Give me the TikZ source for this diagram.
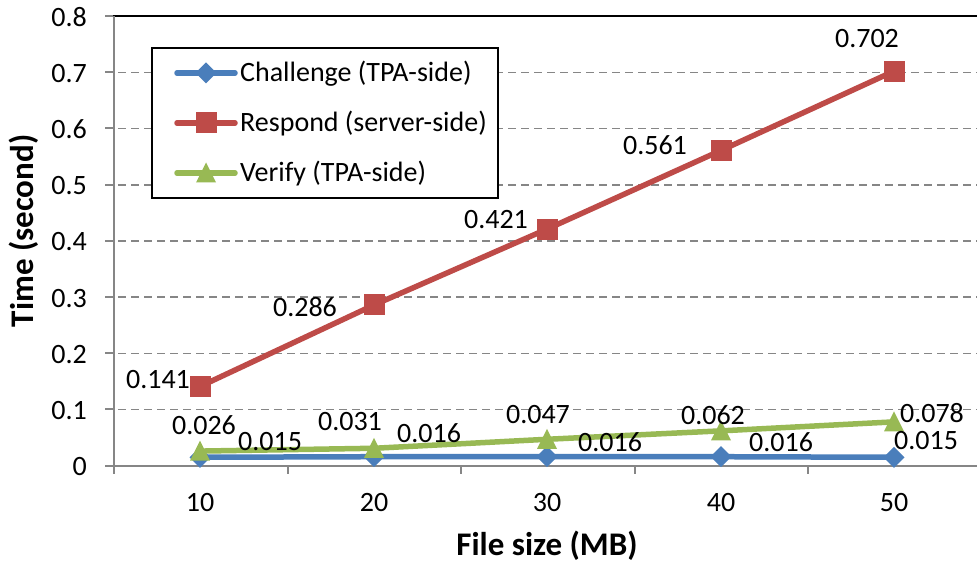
\documentclass[tikz,border=0pt]{standalone}
\usepackage{fontspec}
\setmainfont{Carlito}
\definecolor{chblue}{HTML}{4A7EBB}
\definecolor{rsred}{HTML}{BE4B48}
\definecolor{vfgreen}{HTML}{98B954}
\definecolor{gridgray}{HTML}{868686}
\begin{document}
\begin{tikzpicture}[x=1pt,y=-1pt,
  declare function={vy(\v)=465.7-562*\v;},
  lbl/.style={inner sep=0pt,font=\fontsize{28}{30}\selectfont},
  axtitle/.style={inner sep=0pt,font=\fontsize{33}{36}\selectfont\bfseries},
  grid line/.style={gridgray,line width=1.6pt,dash pattern=on 8pt off 5pt},
  axis line/.style={gridgray,line width=2pt},
  series/.style={line width=5.5pt,line join=round,line cap=round},
  diamondmark/.pic={\fill[chblue] (0,-10.5) -- (10.5,0) -- (0,10.5) -- (-10.5,0) -- cycle;},
  squaremark/.pic={\fill[rsred] (-10.5,-10.5) rectangle (10.5,10.5);},
  trianglemark/.pic={\fill[vfgreen] (0,-10.5) -- (10,9.5) -- (-10,9.5) -- cycle;}]
\useasboundingbox (0,0) rectangle (977,569);

% horizontal grid lines and y ticks
\foreach \v in {0.1,0.2,...,0.75}
  \draw[grid line] (105,{vy(\v)}) -- (977,{vy(\v)});
\foreach \v/\t in {0/0,0.1/0.1,0.2/0.2,0.3/0.3,0.4/0.4,0.5/0.5,0.6/0.6,0.7/0.7,0.8/0.8}{
  \draw[axis line] (105,{vy(\v)}) -- (114,{vy(\v)});
  \node[lbl,anchor=east] at (87,{vy(\v)+1}) {\t};
}
% plot frame and axes
\draw[black,line width=2pt] (113,{vy(0.8)}) -- (977,{vy(0.8)});
\draw[axis line] (114,{vy(0.8)}) -- (114,{vy(0)});
\draw[axis line] (114,{vy(0)}) -- (977,{vy(0)});
\foreach \x in {114,287.5,461,634.5,808}
  \draw[axis line] (\x,{vy(0)}) -- (\x,474);
\foreach \x/\t in {200/10,374/20,547/30,721/40,894/50}
  \node[lbl] at (\x,503) {\t};

% axis titles
\node[axtitle,anchor=base] (xtitle) at (547,555) {File size (MB)};
\node[axtitle,rotate=90] (ytitle) at (24,231) {Time (second)};

% data points
\foreach \n/\x/\c/\r/\g in {1/200/0.015/0.141/0.026,2/374/0.016/0.286/0.031,
    3/547/0.016/0.421/0.047,4/721/0.016/0.561/0.062,5/894/0.015/0.702/0.078}{
  \coordinate (c\n) at (\x,{vy(\c)});
  \coordinate (r\n) at (\x,{vy(\r)});
  \coordinate (g\n) at (\x,{vy(\g)});
}

% Challenge (TPA-side)
\draw[series,chblue] (c1) -- (c2) -- (c3) -- (c4) -- (c5);
\foreach \n in {1,...,5} \pic at (c\n) {diamondmark};
% Respond (server-side)
\draw[series,rsred] (r1) -- (r2) -- (r3) -- (r4) -- (r5);
\foreach \n in {1,...,5} \pic at (r\n) {squaremark};
% Verify (TPA-side)
\draw[series,vfgreen] (g1) -- (g2) -- (g3) -- (g4) -- (g5);
\foreach \n in {1,...,5} \pic at (g\n) {trianglemark};

% data labels
\node[lbl] (lr1) at (158,380) {0.141};
\node[lbl] (lr2) at (305,307) {0.286};
\node[lbl] (lr3) at (496,220) {0.421};
\node[lbl] (lr4) at (655,145) {0.561};
\node[lbl] (lr5) at (867,39) {0.702};
\node[lbl] (lg1) at (204,425) {0.026};
\node[lbl] (lg2) at (350,422) {0.031};
\node[lbl] (lg3) at (538,415) {0.047};
\node[lbl] (lg4) at (713,415) {0.062};
\node[lbl] (lg5) at (932,413.5) {0.078};
\node[lbl,anchor=west] (lc1) at (238,442) {0.015};
\node[lbl,anchor=west] (lc2) at (397,433) {0.016};
\node[lbl,anchor=west] (lc3) at (578,442) {0.016};
\node[lbl,anchor=west] (lc4) at (749,442) {0.016};
\node[lbl,anchor=west] (lc5) at (894,441) {0.015};

% legend
\draw[black,line width=1.5pt,fill=white] (152,48) rectangle (498,198);
\coordinate (la1) at (177,73);  \coordinate (lb1) at (235,73);
\coordinate (la2) at (177,123); \coordinate (lb2) at (235,123);
\coordinate (la3) at (177,173); \coordinate (lb3) at (235,173);
\draw[series,chblue] (la1) -- (lb1);
\pic at (206,73) {diamondmark};
\draw[series,rsred] (la2) -- (lb2);
\pic at (206,123) {squaremark};
\draw[series,vfgreen] (la3) -- (lb3);
\pic at (206,173) {trianglemark};
\node[lbl,anchor=west] (leg1) at (240,74) {Challenge (TPA-side)};
\node[lbl,anchor=west] (leg2) at (240,124) {Respond (server-side)};
\node[lbl,anchor=west] (leg3) at (240,174) {Verify (TPA-side)};
\end{tikzpicture}
\end{document}
